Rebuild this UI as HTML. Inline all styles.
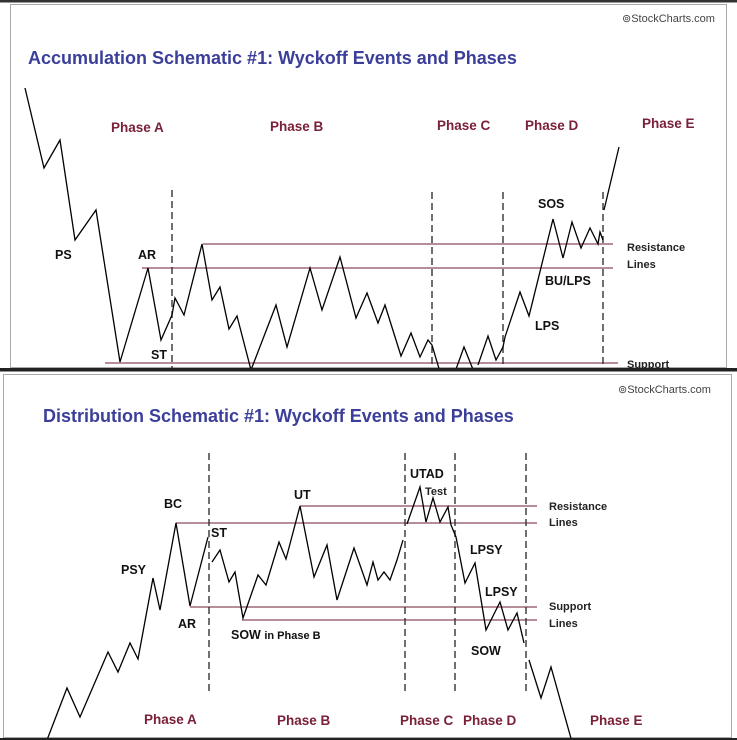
<!DOCTYPE html>
<html><head><meta charset="utf-8"><style>
html,body{margin:0;padding:0;background:#fff;}
svg{display:block;}
text{font-family:"Liberation Sans",sans-serif;}
.t{font-size:18px;font-weight:bold;fill:#3b3f99;}
.ph{font-size:13.5px;font-weight:bold;fill:#7a2038;}
.lb{font-size:12.5px;font-weight:bold;fill:#111;}
.sm{font-size:11px;font-weight:bold;fill:#222;}
.sc{font-size:11px;fill:#444;}
.h{stroke:#8a4a5a;stroke-width:1.3;fill:none;}
.d{stroke:#333;stroke-width:1.4;stroke-dasharray:7,4;fill:none;}
.p{stroke:#000;stroke-width:1.3;fill:none;stroke-linejoin:miter;}
</style></head><body>
<svg width="737" height="740" viewBox="0 0 737 740" xmlns="http://www.w3.org/2000/svg">
<rect x="0" y="0" width="737" height="740" fill="#fff"/>
<rect x="0" y="0" width="737" height="2.5" fill="#333"/>
<rect x="10.5" y="4.5" width="716" height="363" fill="none" stroke="#aaa"/>
<defs><clipPath id="c1"><rect x="0" y="0" width="737" height="368"/></clipPath>
<clipPath id="c2"><rect x="0" y="372" width="737" height="368"/></clipPath></defs>

<!-- TOP -->
<g clip-path="url(#c1)">
<text x="622" y="22" class="sc">⊚StockCharts.com</text>
<text x="28" y="64" class="t">Accumulation Schematic #1: Wyckoff Events and Phases</text>
<text x="111" y="132" class="ph">Phase A</text>
<text x="270" y="131" class="ph">Phase B</text>
<text x="437" y="130" class="ph">Phase C</text>
<text x="525" y="130" class="ph">Phase D</text>
<text x="642" y="128" class="ph">Phase E</text>

<line class="h" x1="203" y1="244" x2="613" y2="244"/>
<line class="h" x1="142" y1="268" x2="613" y2="268"/>
<line class="h" x1="105" y1="363" x2="618" y2="363"/>

<line class="d" x1="172" y1="190" x2="172" y2="368"/>
<line class="d" x1="432" y1="192" x2="432" y2="368"/>
<line class="d" x1="503" y1="192" x2="503" y2="368"/>
<line class="d" x1="603" y1="192" x2="603" y2="368"/>

<polyline class="p" points="25,88 44,168 60,140 75,240 96,210 120,362 148,268 161,340 172,315 175,298 184,315 202,244 212,300 220,287 229,329 237,316 251,370 276,305 287,347 310,268 322,310 340,257 356,318 367,293 378,323 385,305 401,356 411,333 420,357 428,340 432,345 440,372"/>
<polyline class="p" points="455,372 464,347 474,372"/>
<polyline class="p" points="478,365 488,336 496,360 503,347 505,337 520,292 529,316 553,219 563,258 572,222 581,248 590,228 598,244 600,232 603,240"/>
<polyline class="p" points="604,210 619,147"/>

<text x="55" y="259" class="lb">PS</text>
<text x="138" y="259" class="lb">AR</text>
<text x="151" y="359" class="lb">ST</text>
<text x="538" y="208" class="lb">SOS</text>
<text x="545" y="285" class="lb">BU/LPS</text>
<text x="535" y="330" class="lb">LPS</text>
<text x="627" y="251" class="sm">Resistance</text>
<text x="627" y="268" class="sm">Lines</text>
<text x="627" y="368" class="sm">Support</text>
</g>

<rect x="0" y="368" width="737" height="3.5" fill="#222"/>
<rect x="3.5" y="374.5" width="728" height="363" fill="none" stroke="#aaa"/>

<!-- BOTTOM -->
<g clip-path="url(#c2)">
<text x="618" y="393" class="sc">⊚StockCharts.com</text>
<text x="43" y="422" class="t">Distribution Schematic #1: Wyckoff Events and Phases</text>

<line class="h" x1="300" y1="506" x2="537" y2="506"/>
<line class="h" x1="176" y1="523" x2="537" y2="523"/>
<line class="h" x1="190" y1="607" x2="537" y2="607"/>
<line class="h" x1="242" y1="620" x2="537" y2="620"/>

<line class="d" x1="209" y1="453" x2="209" y2="693"/>
<line class="d" x1="405" y1="453" x2="405" y2="695"/>
<line class="d" x1="455" y1="453" x2="455" y2="695"/>
<line class="d" x1="526" y1="453" x2="526" y2="692"/>

<polyline class="p" points="47,740 67,688 80,717 108,652 118,672 130,643 138,659 153,578 160,610 176,523 190,606 208,537"/>
<polyline class="p" points="212,562 220,550 229,582 235,572 243,618 258,575 266,585 279,542 286,559 300,506 314,577 327,545 337,600 354,548 367,585 373,562 378,580 384,572 390,580 397,560 403,540"/>
<polyline class="p" points="407,524 420,487 426,522 433,498 440,522 448,507 451,525 456,537 465,583 475,563 486,630 500,602 508,630 517,613 524,643"/>
<polyline class="p" points="529,660 541,698 551,667 572,742"/>

<text x="164" y="508" class="lb">BC</text>
<text x="121" y="574" class="lb">PSY</text>
<text x="178" y="628" class="lb">AR</text>
<text x="211" y="537" class="lb">ST</text>
<text x="294" y="499" class="lb">UT</text>
<text x="231" y="639" class="lb">SOW <tspan style="font-size:11px">in Phase B</tspan></text>
<text x="410" y="478" class="lb">UTAD</text>
<text x="425" y="495" class="sm">Test</text>
<text x="470" y="554" class="lb">LPSY</text>
<text x="485" y="596" class="lb">LPSY</text>
<text x="471" y="655" class="lb">SOW</text>
<text x="549" y="510" class="sm">Resistance</text>
<text x="549" y="526" class="sm">Lines</text>
<text x="549" y="610" class="sm">Support</text>
<text x="549" y="627" class="sm">Lines</text>

<text x="144" y="724" class="ph">Phase A</text>
<text x="277" y="725" class="ph">Phase B</text>
<text x="400" y="725" class="ph">Phase C</text>
<text x="463" y="725" class="ph">Phase D</text>
<text x="590" y="725" class="ph">Phase E</text>
</g>
<rect x="0" y="738" width="737" height="2" fill="#222"/>
</svg>
</body></html>
